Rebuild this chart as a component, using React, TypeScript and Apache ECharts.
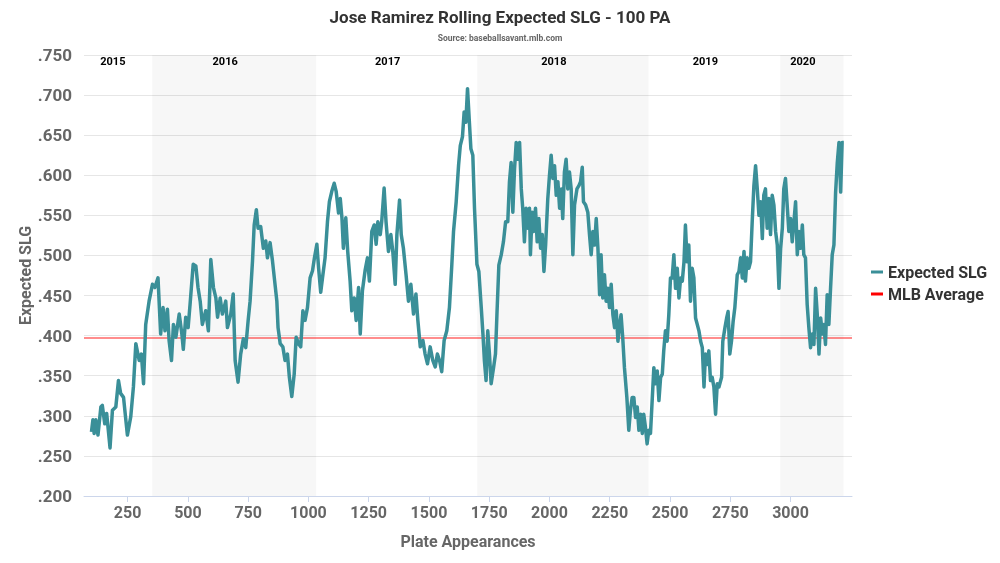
import { useEffect, useRef } from "react";
import * as echarts from "echarts";

// rolling 100 PA expected SLG: [plate appearances, xSLG]
const slgPoints: [number, number][] = [
  [100, 0.28], [106, 0.295], [111, 0.278], [118, 0.295], [127, 0.276], [139, 0.311], [145, 0.313], [155, 0.29],
  [163, 0.303], [177, 0.26], [187, 0.307], [201, 0.311], [212, 0.344], [221, 0.328], [233, 0.323], [249, 0.276],
  [263, 0.299], [274, 0.336], [284, 0.39], [298, 0.369], [307, 0.377], [316, 0.34], [325, 0.414], [339, 0.443],
  [353, 0.464], [363, 0.46], [376, 0.472], [387, 0.402], [397, 0.435], [405, 0.406], [415, 0.433], [422, 0.394],
  [432, 0.369], [440, 0.414], [450, 0.398], [464, 0.427], [475, 0.402], [481, 0.383], [491, 0.423], [501, 0.41],
  [509, 0.439], [522, 0.489], [533, 0.487], [542, 0.46], [551, 0.443], [560, 0.414], [574, 0.431], [585, 0.406],
  [595, 0.495], [606, 0.46], [616, 0.447], [623, 0.423], [634, 0.447], [643, 0.427], [657, 0.443], [664, 0.41],
  [678, 0.427], [688, 0.452], [696, 0.369], [708, 0.342], [719, 0.377], [730, 0.396], [740, 0.385], [750, 0.419],
  [758, 0.443], [768, 0.493], [775, 0.538], [784, 0.557], [791, 0.534], [802, 0.536], [813, 0.509], [823, 0.518],
  [830, 0.497], [841, 0.516], [851, 0.493], [860, 0.468], [869, 0.443], [874, 0.41],
  [883, 0.39], [894, 0.386], [903, 0.369], [913, 0.377], [921, 0.348], [931, 0.324], [941, 0.352], [949, 0.398],
  [959, 0.39], [968, 0.386], [977, 0.431], [986, 0.419], [996, 0.435], [1007, 0.472], [1017, 0.481], [1025, 0.497],
  [1035, 0.514], [1042, 0.485], [1051, 0.454], [1060, 0.476], [1069, 0.497], [1079, 0.542], [1087, 0.567], [1097, 0.58],
  [1107, 0.59], [1115, 0.58], [1125, 0.553], [1132, 0.571], [1139, 0.547], [1145, 0.509], [1155, 0.547], [1163, 0.505],
  [1173, 0.468], [1180, 0.431], [1190, 0.447], [1198, 0.419], [1208, 0.46], [1215, 0.402], [1224, 0.456], [1235, 0.481],
  [1245, 0.497], [1253, 0.468], [1263, 0.53], [1273, 0.538], [1281, 0.514], [1288, 0.542], [1298, 0.526], [1304, 0.542],
  [1314, 0.584], [1322, 0.542], [1332, 0.505], [1342, 0.526], [1350, 0.505], [1360, 0.464], [1367, 0.526], [1378, 0.569],
  [1385, 0.526], [1394, 0.509], [1405, 0.476], [1415, 0.443], [1425, 0.464], [1436, 0.427], [1446, 0.452], [1454, 0.419],
  [1464, 0.386], [1475, 0.394], [1484, 0.377], [1494, 0.365], [1505, 0.386], [1516, 0.369], [1526, 0.361], [1535, 0.377],
  [1544, 0.369], [1553, 0.355], [1563, 0.394], [1574, 0.406], [1585, 0.435], [1595, 0.489], [1602, 0.53], [1613, 0.567],
  [1623, 0.613], [1630, 0.637], [1639, 0.648], [1646, 0.679], [1653, 0.666], [1660, 0.708], [1667, 0.67], [1674, 0.633],
  [1682, 0.625], [1689, 0.559], [1699, 0.489],
  [1707, 0.48], [1717, 0.435], [1724, 0.402], [1730, 0.369], [1737, 0.344], [1744, 0.406], [1751, 0.377], [1758, 0.34],
  [1768, 0.36], [1776, 0.377], [1782, 0.426], [1790, 0.488], [1800, 0.501], [1809, 0.517], [1818, 0.542], [1827, 0.542],
  [1834, 0.592], [1841, 0.616], [1848, 0.554], [1855, 0.608], [1862, 0.641], [1869, 0.62], [1876, 0.641], [1883, 0.583],
  [1889, 0.559], [1896, 0.517], [1903, 0.559], [1910, 0.534], [1917, 0.559], [1921, 0.501], [1928, 0.554], [1934, 0.53],
  [1942, 0.559], [1949, 0.517], [1956, 0.546], [1963, 0.509], [1970, 0.526], [1977, 0.48], [1984, 0.513], [1993, 0.571],
  [2000, 0.6], [2007, 0.625], [2014, 0.596], [2021, 0.612], [2028, 0.575], [2035, 0.592], [2042, 0.559], [2049, 0.583],
  [2055, 0.546], [2062, 0.604], [2069, 0.62], [2076, 0.583], [2083, 0.604], [2090, 0.583], [2097, 0.501], [2104, 0.563],
  [2114, 0.583], [2122, 0.587], [2129, 0.592], [2136, 0.61], [2141, 0.567], [2150, 0.563], [2159, 0.554], [2166, 0.526],
  [2173, 0.501], [2180, 0.53], [2187, 0.513], [2194, 0.546], [2201, 0.509], [2208, 0.451], [2214, 0.501], [2221, 0.447],
  [2228, 0.476], [2235, 0.443], [2242, 0.459], [2249, 0.435], [2256, 0.464], [2263, 0.426], [2270, 0.41], [2277, 0.431],
  [2284, 0.393], [2291, 0.414], [2297, 0.426], [2304, 0.397], [2311, 0.36], [2321, 0.323], [2329, 0.282], [2336, 0.307],
  [2343, 0.323], [2350, 0.323], [2357, 0.298], [2364, 0.311], [2371, 0.282], [2378, 0.302], [2385, 0.278], [2391, 0.302],
  [2398, 0.286], [2405, 0.265], [2412, 0.282], [2419, 0.278], [2426, 0.319], [2433, 0.36], [2440, 0.34], [2447, 0.356],
  [2454, 0.319], [2461, 0.348], [2468, 0.352], [2474, 0.381], [2481, 0.406], [2488, 0.393], [2495, 0.426], [2502, 0.472],
  [2509, 0.472], [2516, 0.501], [2523, 0.459], [2530, 0.484], [2537, 0.447], [2544, 0.472], [2551, 0.468], [2558, 0.492],
  [2564, 0.538], [2571, 0.492], [2578, 0.513], [2585, 0.443], [2592, 0.484], [2599, 0.472], [2606, 0.422], [2613, 0.414],
  [2620, 0.406], [2627, 0.393], [2634, 0.385], [2641, 0.336], [2647, 0.377], [2654, 0.364], [2661, 0.381], [2668, 0.344],
  [2675, 0.348], [2682, 0.336], [2689, 0.302], [2696, 0.34], [2703, 0.336], [2714, 0.348], [2719, 0.393], [2728, 0.41],
  [2735, 0.422], [2741, 0.43], [2748, 0.377], [2755, 0.393], [2762, 0.418], [2769, 0.435], [2779, 0.476], [2786, 0.48],
  [2793, 0.497], [2800, 0.472], [2807, 0.505], [2813, 0.468], [2820, 0.497], [2827, 0.484], [2834, 0.492], [2841, 0.542],
  [2848, 0.587], [2855, 0.612], [2862, 0.583], [2869, 0.55], [2876, 0.567], [2883, 0.521], [2889, 0.575], [2896, 0.583],
  [2903, 0.534], [2910, 0.571], [2917, 0.526], [2924, 0.575], [2931, 0.563], [2938, 0.53], [2945, 0.513], [2952, 0.459],
  [2959, 0.509], [2966, 0.534], [2972, 0.583], [2979, 0.596], [2986, 0.563], [2993, 0.53], [3000, 0.546], [3007, 0.517],
  [3014, 0.542], [3021, 0.567], [3028, 0.501], [3035, 0.53], [3042, 0.509], [3049, 0.538], [3055, 0.501], [3062, 0.497],
  [3069, 0.439], [3076, 0.41], [3083, 0.385], [3090, 0.402], [3097, 0.389], [3104, 0.459], [3111, 0.426], [3118, 0.377],
  [3125, 0.422], [3132, 0.402], [3138, 0.414], [3145, 0.389], [3152, 0.451], [3159, 0.414], [3166, 0.459], [3173, 0.501],
  [3180, 0.513], [3187, 0.579], [3194, 0.616], [3201, 0.641], [3208, 0.579], [3214, 0.641], [3221, 0.641],
];

const seasons = ["2015", "2016", "2017", "2018", "2019", "2020"];
const seasonStart = [100, 352, 1032, 1700, 2411, 2957];
const seasonEnd = [352, 1032, 1700, 2411, 2957, 3220];
const shadedSeasons = ["2016", "2018", "2020"];
const xTicks = [250, 500, 750, 1000, 1250, 1500, 1750, 2000, 2250, 2500, 2750, 3000];
const mlbAverage = 0.397;
const xMin = 69;
const xMax = 3255;

const FONT = "Roboto, 'Noto Sans', sans-serif";

export default function App() {
  const chartRef = useRef<HTMLDivElement>(null);

  useEffect(() => {
    if (!chartRef.current) return;
    const chart = echarts.init(chartRef.current, null, { renderer: "svg" });

    const bands = seasons.map((s, i) => [
      {
        name: s,
        xAxis: seasonStart[i],
        itemStyle: { color: shadedSeasons.includes(s) ? "rgba(0,0,0,0.03)" : "rgba(0,0,0,0)" },
      },
      { xAxis: seasonEnd[i] },
    ]);

    chart.setOption({
      animation: false,
      textStyle: { fontFamily: FONT },
      title: {
        text: "Jose Ramirez Rolling Expected SLG - 100 PA",
        subtext: "Source: baseballsavant.mlb.com",
        left: "center",
        top: 8,
        padding: 0,
        itemGap: 8,
        textStyle: { fontFamily: FONT, fontSize: 17, fontWeight: "bold", color: "#333" },
        subtextStyle: { fontFamily: FONT, fontSize: 8.5, fontWeight: "bold", color: "#666" },
      },
      legend: {
        orient: "vertical",
        left: 866,
        top: 259,
        icon: "rect",
        itemWidth: 12,
        itemHeight: 3,
        itemGap: 6,
        textStyle: { fontFamily: FONT, fontSize: 16, fontWeight: "bold", color: "#333" },
        data: [
          { name: "Expected SLG", itemStyle: { color: "#3a8f98" } },
          { name: "MLB Average", itemStyle: { color: "#ff0000" } },
        ],
      },
      grid: { left: 84, right: 148, top: 55, bottom: 67 },
      xAxis: {
        type: "value",
        min: xMin,
        max: xMax,
        name: "Plate Appearances",
        nameLocation: "middle",
        nameGap: 37,
        nameMoveOverlap: false,
        nameTextStyle: { fontFamily: FONT, fontSize: 16, fontWeight: "bold", color: "#666" },
        axisLine: { show: true, lineStyle: { color: "#ccd6eb", width: 1 } },
        axisTick: { show: true, length: 6, lineStyle: { color: "#ccd6eb" }, customValues: xTicks },
        axisLabel: {
          customValues: xTicks,
          margin: 8,
          fontFamily: FONT,
          fontSize: 16,
          fontWeight: "bold",
          color: "#666",
          formatter: (v: number) => String(v),
        },
        splitLine: { show: false },
      },
      yAxis: {
        type: "value",
        min: 0.2,
        max: 0.75,
        interval: 0.05,
        name: "Expected SLG",
        nameLocation: "middle",
        nameGap: 51,
        nameMoveOverlap: false,
        nameTextStyle: { fontFamily: FONT, fontSize: 16, fontWeight: "bold", color: "#666" },
        axisLine: { show: false },
        axisTick: { show: false },
        axisLabel: {
          margin: 12,
          fontFamily: FONT,
          fontSize: 17,
          fontWeight: "bold",
          color: "#666",
          formatter: (v: number) => v.toFixed(3).replace(/^0/, ""),
        },
        splitLine: { lineStyle: { color: "#e6e6e6", width: 1 } },
      },
      series: [
        {
          name: "Expected SLG",
          type: "line",
          data: slgPoints,
          symbol: "none",
          z: 3,
          lineStyle: { color: "#3a8f98", width: 3.5, join: "round" },
          itemStyle: { color: "#3a8f98" },
        },
        {
          name: "MLB Average",
          type: "line",
          data: [
            [xMin, mlbAverage],
            [xMax, mlbAverage],
          ],
          symbol: "none",
          z: 2,
          lineStyle: { color: "rgba(255,0,0,0.6)", width: 1.5 },
          itemStyle: { color: "#ff0000" },
          markArea: {
            silent: true,
            label: {
              show: true,
              position: "insideTop",
              offset: [-9, -4],
              fontFamily: FONT,
              fontSize: 11,
              fontWeight: "bold",
              color: "#000",
            },
            data: bands,
          },
        },
      ],
    });

    return () => chart.dispose();
  }, []);

  return (
    <div
      ref={chartRef}
      style={{ position: "fixed", left: 0, top: 0, width: 1000, height: 563 }}
    />
  );
}
